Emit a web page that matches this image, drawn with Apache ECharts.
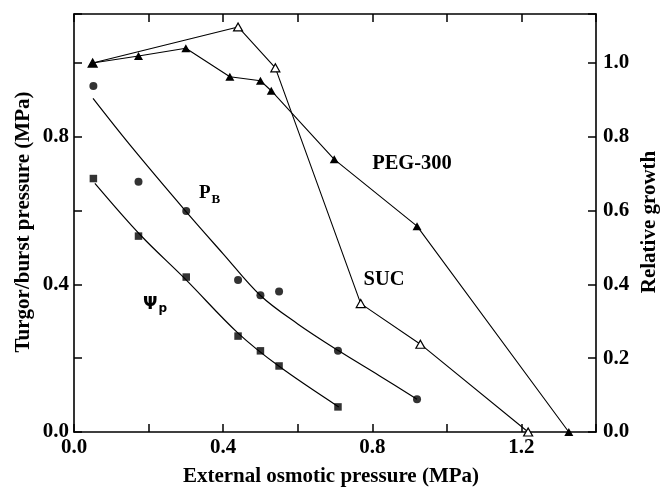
<!DOCTYPE html>
<html><head><meta charset="utf-8">
<script src="https://cdn.jsdelivr.net/npm/echarts@6/dist/echarts.min.js"></script>
<style>html,body{margin:0;padding:0;background:#fff}#c{width:660px;height:488px}</style>
</head><body><div id="c"></div>
<script>
// ---- data ----
// Relative growth (right axis)
const pegX = [0.05, 0.173, 0.30, 0.418, 0.50, 0.529, 0.698, 0.92, 1.327];
const pegY = [1.0, 1.019, 1.04, 0.963, 0.952, 0.925, 0.739, 0.558, 0.0];
const sucX = [0.05, 0.44, 0.54, 0.769, 0.929, 1.218];
const sucY = [1.0, 1.098, 0.987, 0.348, 0.238, 0.0];
// Burst pressure P_B (left axis)
const pbX = [0.052, 0.173, 0.301, 0.44, 0.50, 0.55, 0.708, 0.92];
const pbY = [0.938, 0.678, 0.599, 0.412, 0.371, 0.381, 0.22, 0.089];
const pbCurveX = [0.051, 0.15, 0.30, 0.40, 0.50, 0.60, 0.71, 0.82, 0.92];
const pbCurveY = [0.904, 0.778, 0.598, 0.483, 0.37, 0.293, 0.22, 0.152, 0.089];
// Turgor pressure Psi_p (left axis)
const tpX = [0.052, 0.173, 0.301, 0.44, 0.50, 0.55, 0.708];
const tpY = [0.687, 0.531, 0.42, 0.26, 0.22, 0.179, 0.068];
const tpCurveX = [0.056, 0.178, 0.30, 0.44, 0.55, 0.71];
const tpCurveY = [0.674, 0.534, 0.413, 0.268, 0.178, 0.068];
// tick labels
const xTickLabels = [0.0, 0.4, 0.8, 1.2];
const leftTickLabels = [0.0, 0.4, 0.8];
const rightTickLabels = [0.0, 0.2, 0.4, 0.6, 0.8, 1.0];

const zip = (a, b) => a.map((v, i) => [v, b[i]]);
const FONT = '"Liberation Serif", "Times New Roman", serif';
const has = (list, v) => list.some(t => Math.abs(t - v) < 1e-6);

const mkLine = () => ({show: true, onZero: false, lineStyle: {color: '#000', width: 1.6}});
const mkTick = () => ({show: true, inside: true, length: 8, lineStyle: {color: '#000', width: 1.5}});
const mkLabel = (margin, list) => ({show: true, margin: margin, color: '#000', fontFamily: FONT,
  fontWeight: 'bold', fontSize: 21, formatter: v => has(list, v) ? v.toFixed(1) : ''});

const chart = echarts.init(document.getElementById('c'), null, {renderer: 'canvas'});
chart.setOption({
  animation: false,
  backgroundColor: '#fff',
  grid: {left: 74, right: 64, top: 14, bottom: 56, containLabel: false},
  xAxis: [
    {type: 'value', position: 'bottom', min: 0, max: 1.4, interval: 0.2,
     axisLine: mkLine(), axisTick: mkTick(), splitLine: {show: false},
     axisLabel: mkLabel(5, xTickLabels)},
    {type: 'value', position: 'top', min: 0, max: 1.4, interval: 0.2,
     axisLine: mkLine(), axisTick: mkTick(), splitLine: {show: false}, axisLabel: {show: false}}
  ],
  yAxis: [
    {type: 'value', position: 'left', min: 0, max: 1.133, interval: 0.2,
     axisLine: mkLine(), axisTick: mkTick(), splitLine: {show: false},
     axisLabel: mkLabel(5, leftTickLabels)},
    {type: 'value', position: 'right', min: 0, max: 1.133, interval: 0.2,
     axisLine: mkLine(), axisTick: mkTick(), splitLine: {show: false},
     axisLabel: mkLabel(7, rightTickLabels)}
  ],
  series: [
    {type: 'line', xAxisIndex: 0, yAxisIndex: 0, data: zip(pbCurveX, pbCurveY), smooth: 0.35,
     showSymbol: false, lineStyle: {color: '#000', width: 1.2}},
    {type: 'line', xAxisIndex: 0, yAxisIndex: 0, data: zip(tpCurveX, tpCurveY), smooth: 0.35,
     showSymbol: false, lineStyle: {color: '#000', width: 1.2}},
    {type: 'line', xAxisIndex: 0, yAxisIndex: 1, data: zip(sucX, sucY),
     symbol: 'triangle', symbolSize: [9, 8], showAllSymbol: true,
     lineStyle: {color: '#000', width: 1.1},
     itemStyle: {color: '#fff', borderColor: '#000', borderWidth: 1.2}},
    {type: 'line', xAxisIndex: 0, yAxisIndex: 1, data: zip(pegX, pegY),
     symbol: 'triangle', symbolSize: [9, 8], showAllSymbol: true,
     lineStyle: {color: '#000', width: 1.1},
     itemStyle: {color: '#000', borderColor: '#000', borderWidth: 0}},
    {type: 'scatter', xAxisIndex: 0, yAxisIndex: 0, data: zip(pbX, pbY),
     symbol: 'circle', symbolSize: 8, itemStyle: {color: '#000'}},
    {type: 'scatter', xAxisIndex: 0, yAxisIndex: 0, data: zip(tpX, tpY),
     symbol: 'rect', symbolSize: 7.5, itemStyle: {color: '#000'}}
  ],
  graphic: [
    {type: 'text', x: 24, y: 222, rotation: Math.PI / 2,
     style: {text: 'Turgor/burst pressure (MPa)', align: 'center', verticalAlign: 'middle',
             font: 'bold 21px ' + FONT, fill: '#000'}},
    {type: 'text', x: 650, y: 222, rotation: Math.PI / 2,
     style: {text: 'Relative growth', align: 'center', verticalAlign: 'middle',
             font: 'bold 21px ' + FONT, fill: '#000'}},
    {type: 'text', x: 331, y: 477,
     style: {text: 'External osmotic pressure (MPa)', align: 'center', verticalAlign: 'middle',
             font: 'bold 21px ' + FONT, fill: '#000'}},
    {type: 'text', x: 199, y: 181,
     style: {text: '{p|P}{s|B}', rich: {
       p: {fontFamily: FONT, fontWeight: 'bold', fontSize: 19, fill: '#000'},
       s: {fontFamily: FONT, fontWeight: 'bold', fontSize: 13, fill: '#000', padding: [12, 0, 0, 1]}}}},
    {type: 'text', x: 143, y: 294,
     style: {text: '{p|Ψ}{s|p}', rich: {
       p: {fontFamily: '"DejaVu Sans", sans-serif', fontWeight: 'bold', fontSize: 17, fill: '#000'},
       s: {fontFamily: '"DejaVu Sans", sans-serif', fontWeight: 'bold', fontSize: 12, fill: '#000', padding: [9, 0, 0, 1]}}}},
    {type: 'text', x: 412, y: 164,
     style: {text: 'PEG-300', align: 'center', verticalAlign: 'middle',
             font: 'bold 20.5px ' + FONT, fill: '#000'}},
    {type: 'text', x: 384, y: 280,
     style: {text: 'SUC', align: 'center', verticalAlign: 'middle',
             font: 'bold 20.5px ' + FONT, fill: '#000'}}
  ]
});
</script></body></html>
